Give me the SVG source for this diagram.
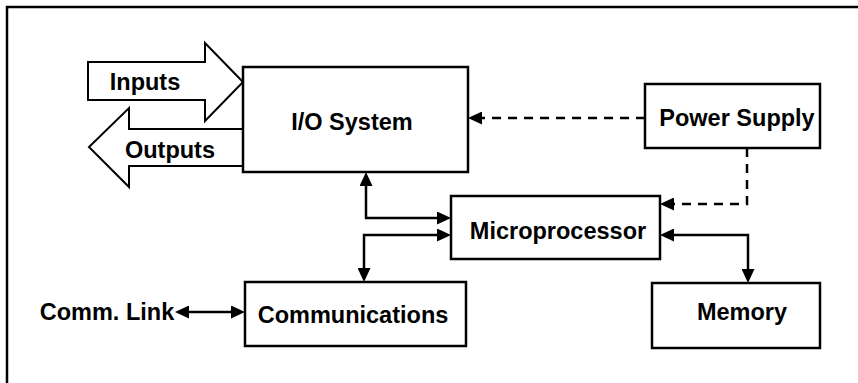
<svg xmlns="http://www.w3.org/2000/svg" width="858" height="383" viewBox="0 0 858 383">
  <style>
    .box { fill: #fff; stroke: #000; stroke-width: 2.5; }
    .big { fill: #fff; stroke: #000; stroke-width: 2; stroke-linejoin: miter; }
    .lbl { font-family: "Liberation Sans", Arial, sans-serif; font-weight: bold; font-size: 23.5px; fill: #000; text-anchor: middle; }
    .wire { fill: none; stroke: #000; stroke-width: 2.5; }
    .dash { stroke-dasharray: 9 7; }
  </style>
  <defs>
    <marker id="ah" markerUnits="userSpaceOnUse" markerWidth="14" markerHeight="13" refX="10" refY="6.5" orient="auto-start-reverse" viewBox="0 0 14 13">
      <path d="M0,0 L14,6.5 L0,13 z" fill="#000"/>
    </marker>
  </defs>
  <rect width="858" height="383" fill="#fff"/>
  <path d="M7,400 L7,7 L870,7" fill="none" stroke="#000" stroke-width="2.5"/>

  <g id="inputs">
    <polygon class="big" points="88,62 205,62 205,43 243,82 205,121 205,100 88,100"/>
    <text class="lbl" x="145" y="90">Inputs</text>
  </g>
  <g id="outputs">
    <polygon class="big" points="243,129 129,129 129,108 89,147 129,187 129,166 243,166"/>
    <text class="lbl" x="170" y="158">Outputs</text>
  </g>
  <g id="io-system">
    <rect class="box" x="243" y="67" width="225" height="105"/>
    <text class="lbl" x="352" y="130">I/O System</text>
  </g>
  <g id="power-supply">
    <rect class="box" x="645" y="84" width="175" height="64"/>
    <text class="lbl" x="737" y="126">Power Supply</text>
  </g>
  <g id="microprocessor">
    <rect class="box" x="451" y="196" width="209" height="63"/>
    <text class="lbl" x="558" y="239">Microprocessor</text>
  </g>
  <g id="communications">
    <rect class="box" x="245" y="282" width="221" height="64"/>
    <text class="lbl" x="353" y="323">Communications</text>
  </g>
  <g id="memory">
    <rect class="box" x="652" y="283" width="168" height="65"/>
    <text class="lbl" x="742" y="320">Memory</text>
  </g>
  <g id="comm-link">
    <text class="lbl" x="107" y="320">Comm. Link</text>
  </g>

  <g id="connectors">
    <path class="wire dash" d="M645,118 L472,118" marker-end="url(#ah)"/>
    <path class="wire dash" d="M747,148 L747,204 L664,204" marker-end="url(#ah)"/>
    <path class="wire" d="M366,176 L366,218 L447,218" marker-start="url(#ah)" marker-end="url(#ah)"/>
    <path class="wire" d="M447,235 L364,235 L364,278" marker-start="url(#ah)" marker-end="url(#ah)"/>
    <path class="wire" d="M664,235 L748,235 L748,279" marker-start="url(#ah)" marker-end="url(#ah)"/>
    <path class="wire" d="M179,312 L241,312" marker-start="url(#ah)" marker-end="url(#ah)"/>
  </g>
</svg>
